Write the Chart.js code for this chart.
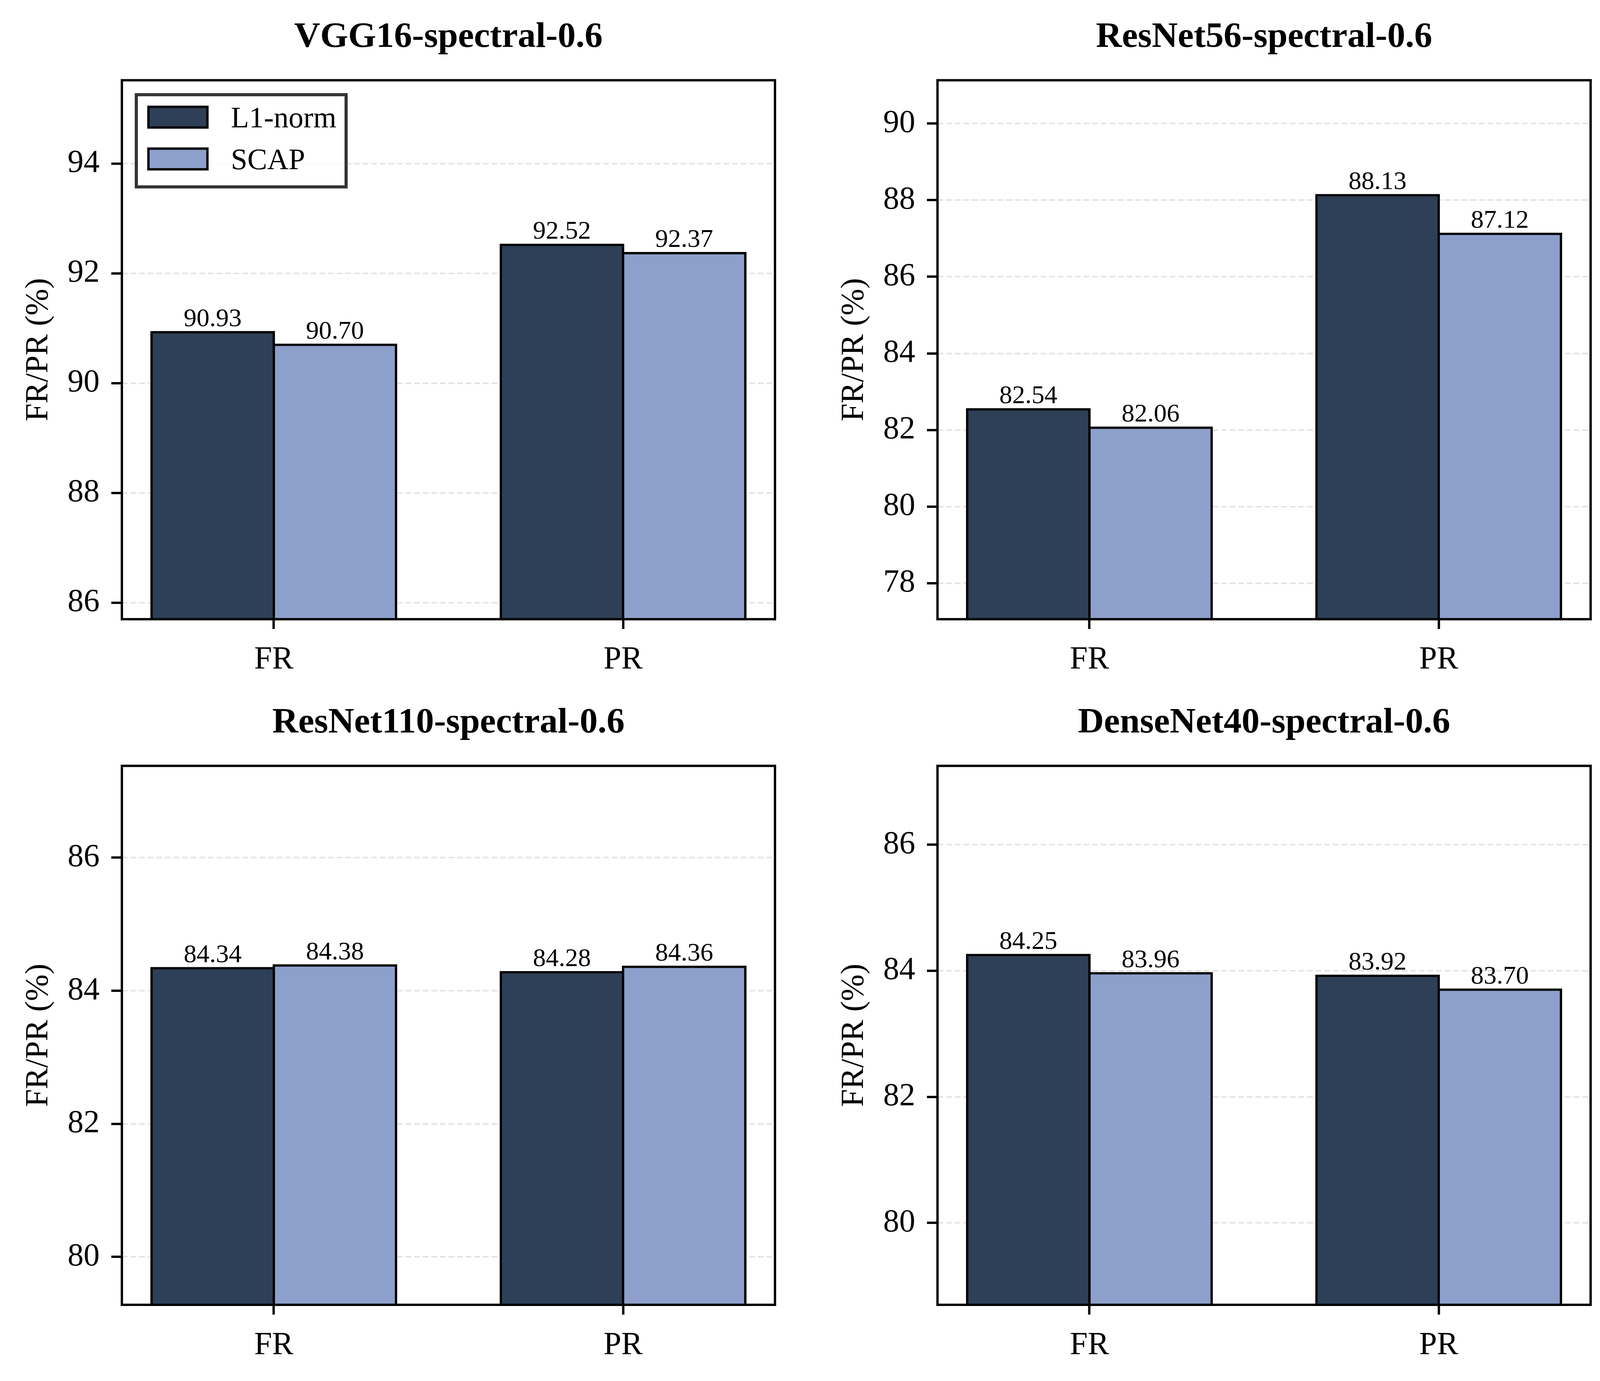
<!DOCTYPE html>
<html>
<head>
<meta charset="utf-8">
<script src="https://cdn.jsdelivr.net/npm/chart.js@4.4.0/dist/chart.umd.min.js"></script>
<style>
  html, body { margin: 0; padding: 0; background: #fff; }
  body { width: 4130px; height: 3535px; position: relative; overflow: hidden; }
  canvas { position: absolute; }
</style>
</head>
<body>
<canvas id="c0"></canvas>
<canvas id="c1"></canvas>
<canvas id="c2"></canvas>
<canvas id="c3"></canvas>
<script>
const categories = ['FR', 'PR'];
const seriesNames = ['L1-norm', 'SCAP'];
const panelTitles = ['VGG16-spectral-0.6', 'ResNet56-spectral-0.6', 'ResNet110-spectral-0.6', 'DenseNet40-spectral-0.6'];
const l1normValues = [[90.93, 92.52], [82.54, 88.13], [84.34, 84.28], [84.25, 83.92]];
const scapValues = [[90.70, 92.37], [82.06, 87.12], [84.38, 84.36], [83.96, 83.70]];
const yTickValues = [[86, 88, 90, 92, 94], [78, 80, 82, 84, 86, 88, 90], [80, 82, 84, 86], [80, 82, 84, 86]];

// canvas placement for the 2x2 grid; plot area sits at the same offset in each
const panels = [
  { left: 0, top: 0, width: 2060, height: 1755 },
  { left: 2088, top: 0, width: 2042, height: 1755 },
  { left: 0, top: 1755, width: 2060, height: 1780 },
  { left: 2088, top: 1755, width: 2042, height: 1780 }
];
const plotLeft = 312, plotWidth = 1672, plotBottom = 1585;

Chart.defaults.font.family = '"Liberation Serif", "Times New Roman", serif';
Chart.defaults.color = '#000';

const framePlugin = {
  id: 'frame',
  afterDatasetsDraw(chart) {
    const { ctx, chartArea: a } = chart;
    ctx.save();
    ctx.lineWidth = 6;
    ctx.strokeStyle = '#000';
    ctx.strokeRect(a.left, a.top, a.right - a.left, a.bottom - a.top);
    ctx.restore();
  }
};

const barLabelPlugin = {
  id: 'barLabels',
  afterDraw(chart) {
    const ctx = chart.ctx;
    ctx.save();
    ctx.font = '66px "Liberation Serif"';
    ctx.fillStyle = '#000';
    ctx.textAlign = 'center';
    ctx.textBaseline = 'bottom';
    chart.data.datasets.forEach((ds, di) => {
      chart.getDatasetMeta(di).data.forEach((bar, k) => {
        ctx.fillText(ds.data[k].y.toFixed(2), bar.x, bar.y);
      });
    });
    ctx.restore();
  }
};

const boxLegendPlugin = {
  id: 'boxLegend',
  afterDraw(chart, args, opts) {
    if (!opts.display) return;
    const { ctx, chartArea: a } = chart;
    const x0 = a.left + 37, y0 = a.top + 37;
    ctx.save();
    ctx.fillStyle = 'rgba(255,255,255,0.8)';
    ctx.fillRect(x0, y0, 537, 236);
    ctx.lineWidth = 8;
    ctx.strokeStyle = '#333';
    ctx.strokeRect(x0, y0, 537, 236);
    chart.data.datasets.forEach((ds, k) => {
      const py = y0 + 31 + k * 107;
      ctx.fillStyle = ds.backgroundColor;
      ctx.fillRect(x0 + 31, py, 151, 53);
      ctx.lineWidth = 6;
      ctx.strokeStyle = '#000';
      ctx.strokeRect(x0 + 31, py, 151, 53);
      ctx.fillStyle = '#000';
      ctx.font = '76px "Liberation Serif"';
      ctx.textAlign = 'left';
      ctx.textBaseline = 'alphabetic';
      ctx.fillText(ds.label, x0 + 242, py + 53);
    });
    ctx.restore();
  }
};

function buildChart(i) {
  const p = panels[i];
  const canvas = document.getElementById('c' + i);
  canvas.width = p.width;
  canvas.height = p.height;
  canvas.style.left = p.left + 'px';
  canvas.style.top = p.top + 'px';
  canvas.style.width = p.width + 'px';
  canvas.style.height = p.height + 'px';

  const all = l1normValues[i].concat(scapValues[i]);
  const yMin = Math.min(...all) - 5;
  const yMax = Math.max(...all) + 3;

  const barStyle = {
    borderColor: '#000',
    borderWidth: 6,
    borderSkipped: false,
    inflateAmount: 3,
    categoryPercentage: 0.7,
    barPercentage: 1.0
  };

  new Chart(canvas, {
    type: 'bar',
    data: {
      datasets: [
        Object.assign({
          label: seriesNames[0],
          data: categories.map((c, k) => ({ x: k, y: l1normValues[i][k] })),
          backgroundColor: '#2E4057'
        }, barStyle),
        Object.assign({
          label: seriesNames[1],
          data: categories.map((c, k) => ({ x: k, y: scapValues[i][k] })),
          backgroundColor: '#8DA0CB'
        }, barStyle)
      ]
    },
    options: {
      responsive: false,
      animation: false,
      devicePixelRatio: 1,
      layout: { padding: { left: 0, top: 0, bottom: 0, right: p.width - plotLeft - plotWidth } },
      plugins: {
        legend: { display: false },
        tooltip: { enabled: false },
        title: {
          display: true,
          text: panelTitles[i],
          fullSize: false,
          color: '#000',
          font: { size: 92, weight: 'bold' },
          padding: { top: 41, bottom: 54 }
        },
        boxLegend: { display: i === 0 }
      },
      scales: {
        x: {
          type: 'linear',
          min: -0.435,
          max: 1.435,
          offset: false,
          afterBuildTicks: s => { s.ticks = categories.map((c, k) => ({ value: k })); },
          afterFit: s => { s.height = p.height - plotBottom; },
          ticks: {
            callback: v => categories[v],
            font: { size: 82 },
            color: '#000',
            padding: 30,
            autoSkip: false,
            maxRotation: 0
          },
          grid: { drawOnChartArea: false, offset: false, tickColor: '#000', tickWidth: 6, tickLength: 25 },
          border: { display: false }
        },
        y: {
          min: yMin,
          max: yMax,
          afterBuildTicks: s => { s.ticks = yTickValues[i].map(v => ({ value: v })); },
          afterFit: s => { s.width = plotLeft; },
          ticks: { font: { size: 82 }, color: '#000', padding: 30, autoSkip: false },
          grid: { color: '#e4e4e4', lineWidth: 4, tickColor: '#000', tickWidth: 6, tickLength: 27, tickBorderDash: [] },
          border: { display: false, dash: [15, 7] },
          title: {
            display: true,
            text: 'FR/PR (%)',
            color: '#000',
            font: { size: 82 },
            padding: { top: 50, bottom: 0 }
          }
        }
      }
    },
    plugins: [framePlugin, barLabelPlugin, boxLegendPlugin]
  });
}

for (let i = 0; i < 4; i++) buildChart(i);
</script>
</body>
</html>
